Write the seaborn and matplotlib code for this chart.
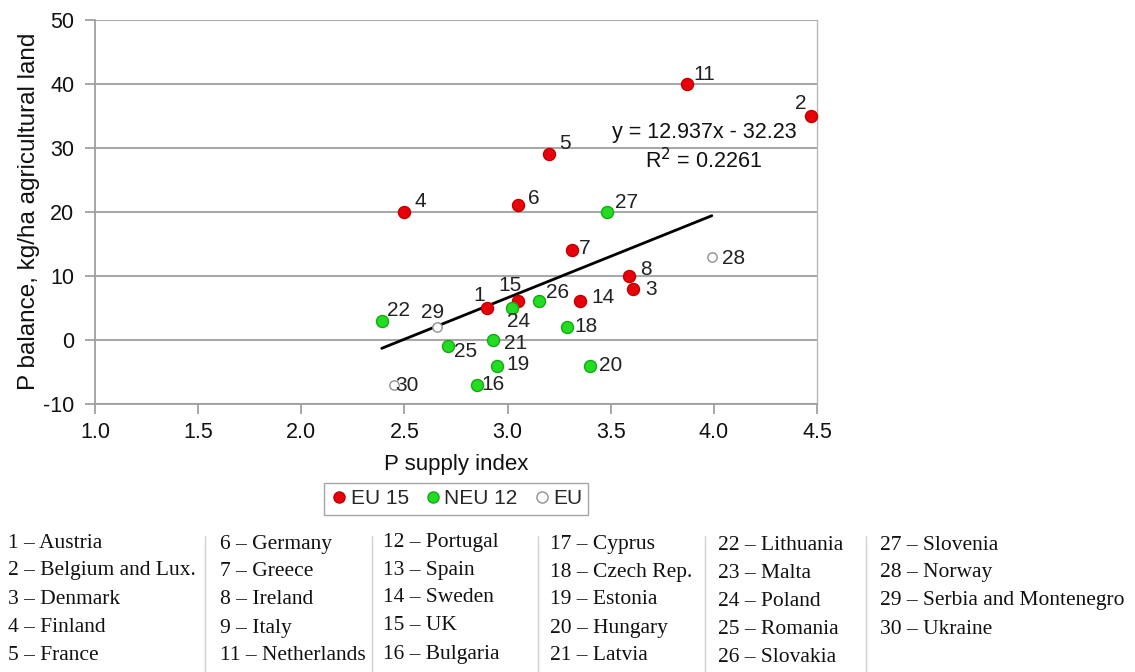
import numpy as np
import pandas as pd
import seaborn as sns
import matplotlib.pyplot as plt
from matplotlib.lines import Line2D

# Country number, P supply index, P balance (kg/ha), group
country_ids = [1, 2, 3, 4, 5, 6, 7, 8, 11, 14, 15,
               16, 18, 19, 20, 21, 22, 24, 25, 26, 27,
               28, 29, 30]
supply_index = [2.90, 4.47, 3.61, 2.50, 3.20, 3.05, 3.31, 3.59, 3.87, 3.35, 3.05,
                2.85, 3.29, 2.95, 3.40, 2.93, 2.39, 3.02, 2.71, 3.15, 3.48,
                3.99, 2.66, 2.45]
p_balance = [5, 35, 8, 20, 29, 21, 14, 10, 40, 6, 6,
             -7, 2, -4, -4, 0, 3, 5, -1, 6, 20,
             13, 2, -7]
groups = ["EU 15"] * 11 + ["NEU 12"] * 10 + ["EU"] * 3

# Linear trend reported on the chart
slope, intercept, r_squared = 12.937, -32.23, 0.2261
fit_x = [2.39, 3.99]

# Label offsets (pixels) for the point numbers
label_offsets = {1: (-8, 12), 2: (-10, 12), 3: (18, -1), 4: (16, 10), 5: (16, 11),
                 6: (16, 7), 7: (13, 2), 8: (17, 6), 11: (17, 9), 14: (23, 4),
                 15: (-8, 16), 16: (16, 0), 18: (19, 1), 19: (21, 1), 20: (21, 0),
                 21: (22, -4), 22: (17, 10), 24: (7, -14), 25: (18, -5), 26: (19, 9),
                 27: (20, 9), 28: (22, -2), 29: (-5, 15), 30: (13, -1)}

country_names = {
    1: "Austria", 2: "Belgium and Lux.", 3: "Denmark", 4: "Finland", 5: "France",
    6: "Germany", 7: "Greece", 8: "Ireland", 9: "Italy", 11: "Netherlands",
    12: "Portugal", 13: "Spain", 14: "Sweden", 15: "UK", 16: "Bulgaria",
    17: "Cyprus", 18: "Czech Rep.", 19: "Estonia", 20: "Hungary", 21: "Latvia",
    22: "Lithuania", 23: "Malta", 24: "Poland", 25: "Romania", 26: "Slovakia",
    27: "Slovenia", 28: "Norway", 29: "Serbia and Montenegro", 30: "Ukraine",
}
table_columns = [[1, 2, 3, 4, 5], [6, 7, 8, 9, 11], [12, 13, 14, 15, 16],
                 [17, 18, 19, 20, 21], [22, 23, 24, 25, 26], [27, 28, 29, 30]]

df = pd.DataFrame({"id": country_ids, "supply": supply_index,
                   "balance": p_balance, "group": groups})

sns.set_theme(style="white")
plt.rcParams["font.family"] = ["Liberation Sans", "DejaVu Sans"]
plt.rcParams["axes.unicode_minus"] = False

W, H = 1135, 672
fig = plt.figure(figsize=(W / 100, H / 100), dpi=100)
ax = fig.add_axes([95 / W, 1 - 404 / H, (817 - 95) / W, (404 - 19.6) / H])

styles = {
    "EU 15": dict(color="#e8000b", edgecolor="#c00000", s=75),
    "NEU 12": dict(color="#22dd22", edgecolor="#16a816", s=75),
    "EU": dict(color="white", edgecolor="#909090", s=45),
}
for g, st in styles.items():
    sub = df[df["group"] == g]
    sns.scatterplot(data=sub, x="supply", y="balance", ax=ax, label=g,
                    color=st["color"], edgecolor=st["edgecolor"], s=st["s"],
                    linewidth=1.0, zorder=4, clip_on=False)

# Trend line
trend = pd.DataFrame({"x": fit_x})
trend["y"] = slope * trend["x"] + intercept
sns.lineplot(data=trend, x="x", y="y", ax=ax, color="black", linewidth=2, zorder=3)

for cid, x, y in zip(country_ids, supply_index, p_balance):
    dx, dy = label_offsets[cid]
    ax.annotate(str(cid), (x, y), xytext=(dx, dy), textcoords="offset pixels",
                ha="center", va="center", fontsize=15, color="#222222", zorder=5)

ax.text(0.8435, 0.707, f"y = {slope}x - {abs(intercept)}", transform=ax.transAxes,
        ha="center", va="center", fontsize=15.5, color="#111111")
ax.text(0.8435, 0.632, f"R$^2$ = {r_squared}", transform=ax.transAxes,
        ha="center", va="center", fontsize=15.5, color="#111111")

ax.set_xlim(1.0, 4.5)
ax.set_ylim(-10, 50)
ax.set_xticks(np.arange(1.0, 4.51, 0.5))
ax.set_xticklabels([f"{v:.1f}" for v in np.arange(1.0, 4.51, 0.5)])
ax.set_yticks(np.arange(-10, 51, 10))
ax.yaxis.grid(True, color="#a8a8a8", linewidth=1.5)
ax.xaxis.grid(False)
for side in ["left", "bottom"]:
    ax.spines[side].set_color("#a0a0a0")
    ax.spines[side].set_linewidth(1.3)
ax.spines["right"].set_color("#b8b8b8")
ax.spines["right"].set_linewidth(1.0)
ax.spines["top"].set_visible(False)
ax.tick_params(axis="both", which="major", direction="out", length=7, width=1.3,
               color="#a0a0a0", labelsize=15.5, labelcolor="#111111")
ax.tick_params(axis="x", pad=6)
ax.tick_params(axis="y", pad=8)
ax.tick_params(left=True, bottom=True)
ax.set_xlabel("P supply index", fontsize=16, color="#111111", labelpad=8)
ax.set_ylabel("P balance, kg/ha agricultural land", fontsize=17.5, color="#111111",
              labelpad=2)

if ax.legend_:
    ax.legend_.remove()
leg_handles = [Line2D([], [], marker="o", linestyle="", markersize=8,
                      markerfacecolor=styles[g]["color"],
                      markeredgecolor=styles[g]["edgecolor"]) for g in styles]
fig.legend(leg_handles, list(styles.keys()), loc="center", ncol=3,
           bbox_to_anchor=(456 / W, 1 - 499 / H), fontsize=15, frameon=True,
           fancybox=False, edgecolor="#909090", handletextpad=0.1,
           columnspacing=0.7, borderpad=0.3, handlelength=0.9)

# Country key below the chart
col_x = [8, 220, 383, 550, 718, 880]
col_shift = [0, 1, -1, 1, 3, 2]
row_y = [543, 571, 599, 627, 655]
sep_x = [205, 372, 538, 705, 866]
for cx, dy, ids in zip(col_x, col_shift, table_columns):
    for ry, cid in zip(row_y, ids):
        fig.text(cx / W, 1 - (ry + dy) / H, f"{cid} – {country_names[cid]}",
                 ha="left", va="center", fontsize=15.5,
                 family=["Liberation Serif", "DejaVu Serif"], color="#111111")
for sx in sep_x:
    fig.add_artist(Line2D([sx / W, sx / W], [1 - 536 / H, 0], color="#d0d0d0",
                          linewidth=1.0))

fig.savefig("out.png", dpi=100)
